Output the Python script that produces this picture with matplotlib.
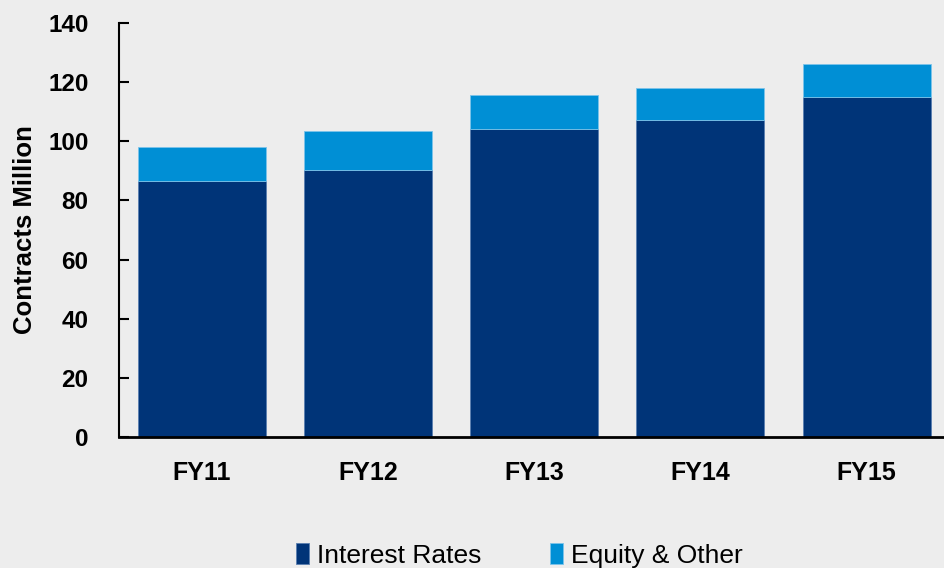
import matplotlib.pyplot as plt
import numpy as np

years = ["FY11", "FY12", "FY13", "FY14", "FY15"]
interest_rates = [86.7, 90.4, 104.3, 107.3, 115.0]
equity_other = [11.3, 13.1, 11.4, 10.6, 11.2]

plt.rcParams['font.family'] = ['Liberation Sans', 'DejaVu Sans']

fig = plt.figure(figsize=(9.44, 5.68), dpi=100)
fig.patch.set_facecolor('#EDEDED')
ax = fig.add_axes([0.126, 0.2306, 0.88, 0.729])
ax.set_facecolor('#EDEDED')

x = np.arange(len(years))
b1 = ax.bar(x, interest_rates, width=0.77, color='#003478', edgecolor='#5a7fb0', lw=0.6,
            label='Interest Rates')
b2 = ax.bar(x, equity_other, width=0.77, bottom=interest_rates, color='#008FD5',
            edgecolor='#7cc4ea', lw=0.6, label='Equity & Other')

ax.set_xlim(-0.5, 4.5)
ax.set_ylim(0, 140)
ax.set_yticks(range(0, 141, 20))
ax.set_xticks(x)
ax.set_xticklabels(years, fontsize=18, fontweight='bold')
for t in ax.get_yticklabels():
    t.set_fontsize(17.5)
    t.set_fontweight('bold')
ax.tick_params(axis='y', direction='in', length=7, width=1.5, pad=22)
ax.tick_params(axis='x', length=0, pad=17)
ax.spines['top'].set_visible(False)
ax.spines['right'].set_visible(False)
ax.spines['left'].set_linewidth(1.5)
ax.spines['bottom'].set_linewidth(2)
ax.set_ylabel('Contracts Million', fontsize=18.5, fontweight='bold', labelpad=8)

fig.legend(handles=[b1, b2], loc='center', bbox_to_anchor=(0.55, 0.022), ncol=2,
           frameon=False, fontsize=19, handlelength=0.5, handleheight=0.8,
           handletextpad=0.3, columnspacing=2.6)

fig.savefig('out.png', dpi=100, facecolor=fig.get_facecolor())
